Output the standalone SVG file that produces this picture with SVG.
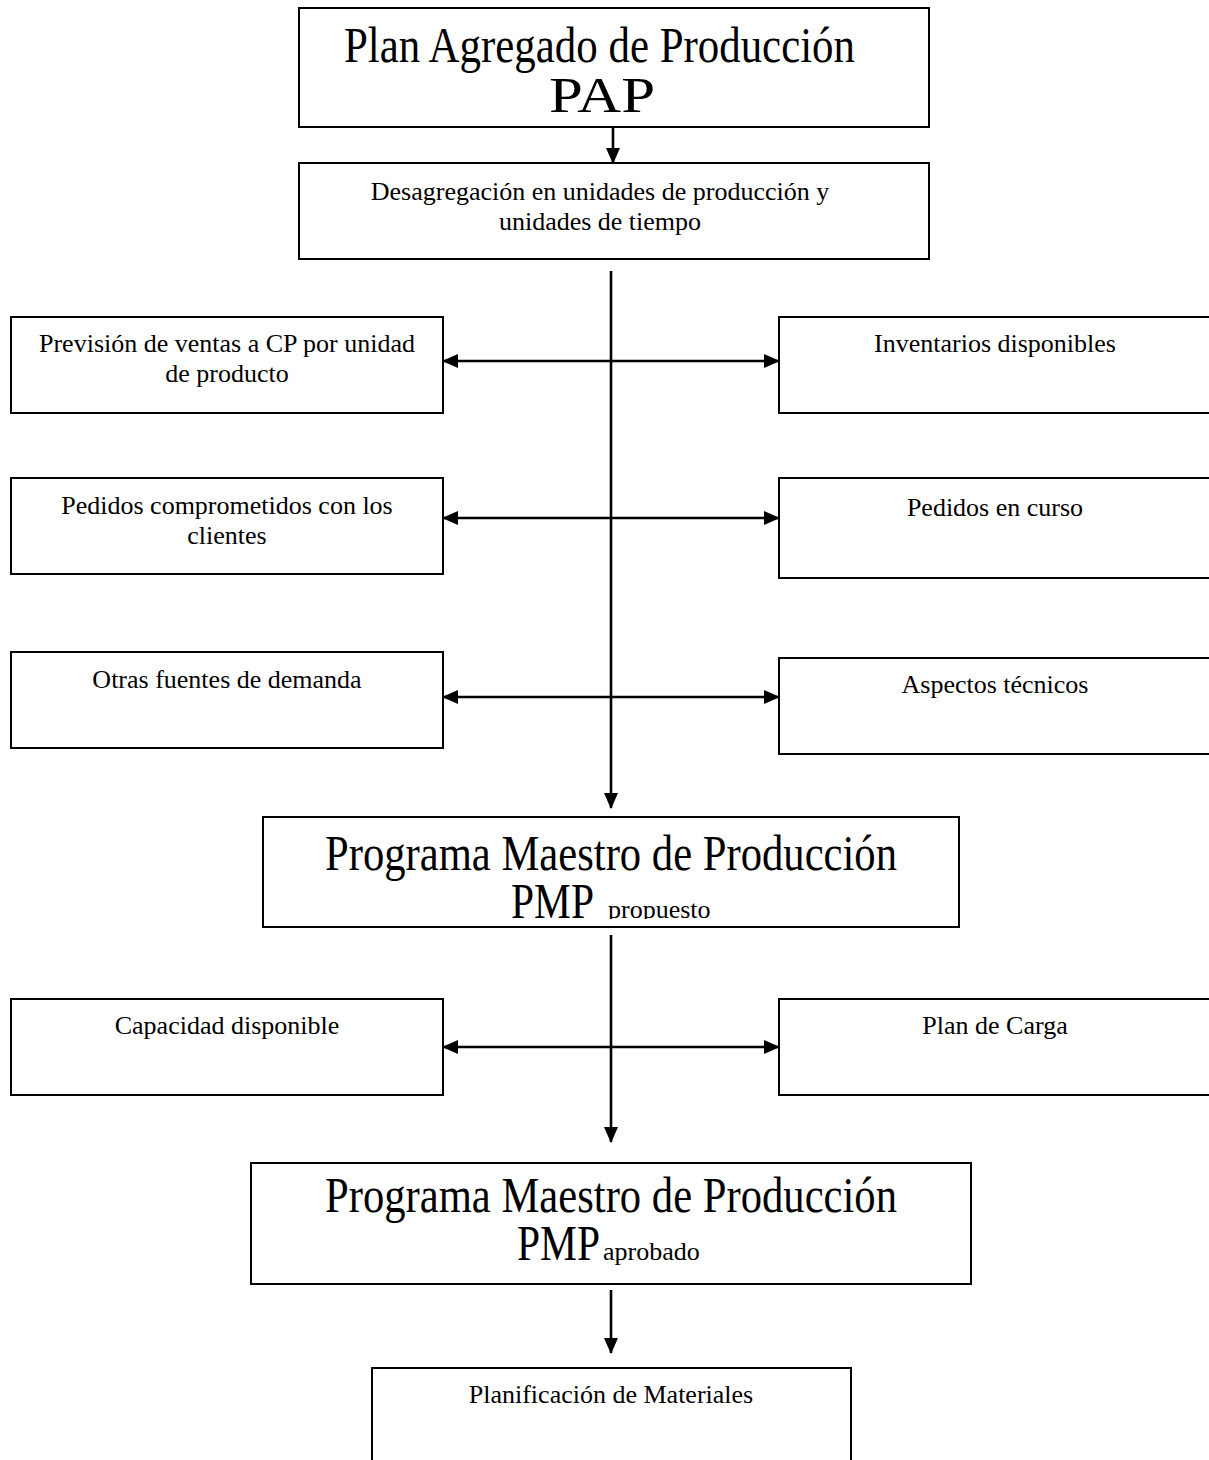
<svg xmlns="http://www.w3.org/2000/svg" width="1209" height="1460" viewBox="0 0 1209 1460">
<style>
.box{fill:#fff;stroke:#000;stroke-width:2}
.t{font-family:"Liberation Serif","Times New Roman",serif;font-size:26px;fill:#000;text-anchor:middle}
.big{font-family:"Liberation Serif","Times New Roman",serif;font-size:50px;fill:#000}
.sub{font-family:"Liberation Serif","Times New Roman",serif;font-size:26px;fill:#000}
.c{stroke:#000;stroke-width:2.6;fill:none}
</style>
<defs>
<marker id="ah" viewBox="0 0 16 14" refX="15" refY="7" markerWidth="16" markerHeight="14" markerUnits="userSpaceOnUse" orient="auto-start-reverse">
<path d="M0,0 L16,7 L0,14 Z" fill="#000"/>
</marker>
<clipPath id="clipProp"><rect x="263" y="817" width="696" height="102"/></clipPath>
</defs>
<rect width="1209" height="1460" fill="#fff"/>

<g id="connectors">
<line class="c" x1="613" y1="127" x2="613" y2="163" marker-end="url(#ah)"/>
<line class="c" x1="611" y1="271" x2="611" y2="808" marker-end="url(#ah)"/>
<line class="c" x1="611" y1="935" x2="611" y2="1142" marker-end="url(#ah)"/>
<line class="c" x1="611" y1="1290" x2="611" y2="1353" marker-end="url(#ah)"/>
<line class="c" x1="443" y1="361" x2="779" y2="361" marker-start="url(#ah)" marker-end="url(#ah)"/>
<line class="c" x1="443" y1="518" x2="779" y2="518" marker-start="url(#ah)" marker-end="url(#ah)"/>
<line class="c" x1="443" y1="697" x2="779" y2="697" marker-start="url(#ah)" marker-end="url(#ah)"/>
<line class="c" x1="443" y1="1047" x2="779" y2="1047" marker-start="url(#ah)" marker-end="url(#ah)"/>
</g>

<g id="pap">
<rect class="box" x="299" y="8" width="630" height="119"/>
<text class="big" x="344" y="62" textLength="511" lengthAdjust="spacingAndGlyphs">Plan Agregado de Producción</text>
<text class="big" x="549" y="112" textLength="106" lengthAdjust="spacingAndGlyphs">PAP</text>
</g>

<g id="desagregacion">
<rect class="box" x="299" y="163" width="630" height="96"/>
<text class="t" x="600" y="200">Desagregación en unidades de producción y</text>
<text class="t" x="600" y="230">unidades de tiempo</text>
</g>

<g id="prevision">
<rect class="box" x="11" y="317" width="432" height="96"/>
<text class="t" x="227" y="352">Previsión de ventas a CP por unidad</text>
<text class="t" x="227" y="382">de producto</text>
</g>

<g id="inventarios">
<rect class="box" x="779" y="317" width="440" height="96"/>
<text class="t" x="995" y="352">Inventarios disponibles</text>
</g>

<g id="pedidos-comprometidos">
<rect class="box" x="11" y="478" width="432" height="96"/>
<text class="t" x="227" y="514">Pedidos comprometidos con los</text>
<text class="t" x="227" y="544">clientes</text>
</g>

<g id="pedidos-curso">
<rect class="box" x="779" y="478" width="440" height="100"/>
<text class="t" x="995" y="516">Pedidos en curso</text>
</g>

<g id="otras-fuentes">
<rect class="box" x="11" y="652" width="432" height="96"/>
<text class="t" x="227" y="688">Otras fuentes de demanda</text>
</g>

<g id="aspectos">
<rect class="box" x="779" y="658" width="440" height="96"/>
<text class="t" x="995" y="693">Aspectos técnicos</text>
</g>

<g id="pmp-propuesto">
<rect class="box" x="263" y="817" width="696" height="110"/>
<text class="big" x="325" y="870" textLength="572" lengthAdjust="spacingAndGlyphs">Programa Maestro de Producción</text>
<g clip-path="url(#clipProp)">
<text class="big" x="511" y="918" textLength="83" lengthAdjust="spacingAndGlyphs">PMP</text>
<text class="sub" x="608" y="918">propuesto</text>
</g>
</g>

<g id="capacidad">
<rect class="box" x="11" y="999" width="432" height="96"/>
<text class="t" x="227" y="1034">Capacidad disponible</text>
</g>

<g id="plan-carga">
<rect class="box" x="779" y="999" width="440" height="96"/>
<text class="t" x="995" y="1034">Plan de Carga</text>
</g>

<g id="pmp-aprobado">
<rect class="box" x="251" y="1163" width="720" height="121"/>
<text class="big" x="325" y="1212" textLength="572" lengthAdjust="spacingAndGlyphs">Programa Maestro de Producción</text>
<text class="big" x="517" y="1260" textLength="83" lengthAdjust="spacingAndGlyphs">PMP</text>
<text class="sub" x="603" y="1260">aprobado</text>
</g>

<g id="planificacion">
<rect class="box" x="372" y="1368" width="479" height="110"/>
<text class="t" x="611" y="1403">Planificación de Materiales</text>
</g>
</svg>
